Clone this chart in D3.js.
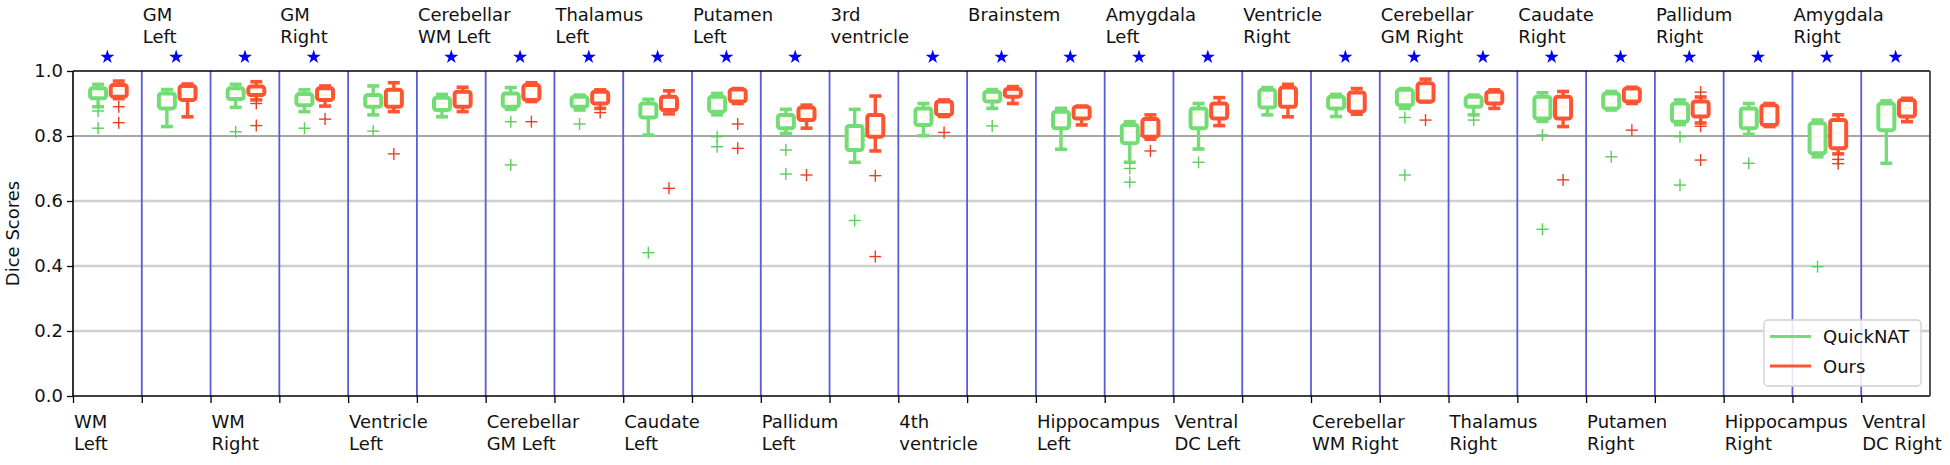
<!DOCTYPE html>
<html>
<head>
<meta charset="utf-8">
<script src="https://cdn.jsdelivr.net/npm/d3@7"></script>
<style>
  html, body { margin: 0; padding: 0; background: #fff; }
  svg { display: block; }
  text { font-family: "DejaVu Sans", sans-serif; }
</style>
</head>
<body>
<svg id="chart" width="1950" height="465"></svg>
<script>
// ---------- data ----------
const structures = [
  "WM\nLeft", "GM\nLeft", "WM\nRight", "GM\nRight", "Ventricle\nLeft",
  "Cerebellar\nWM Left", "Cerebellar\nGM Left", "Thalamus\nLeft", "Caudate\nLeft",
  "Putamen\nLeft", "Pallidum\nLeft", "3rd\nventricle", "4th\nventricle", "Brainstem",
  "Hippocampus\nLeft", "Amygdala\nLeft", "Ventral\nDC Left", "Ventricle\nRight",
  "Cerebellar\nWM Right", "Cerebellar\nGM Right", "Thalamus\nRight", "Caudate\nRight",
  "Putamen\nRight", "Pallidum\nRight", "Hippocampus\nRight", "Amygdala\nRight", "Ventral\nDC Right"
];
const significant = [1,1,1,1,0,1,1,1,1,1,1,0,1,1,1,1,1,0,1,1,1,1,1,1,1,1,1];
const seriesNames = ["QuickNAT", "Ours"];
const yTicks = [0.0, 0.2, 0.4, 0.6, 0.8, 1.0];

// QuickNAT: [whisker low, Q1, median, Q3, whisker high]
const quicknatStats = [
  [0.890,0.916,0.928,0.947,0.959],[0.829,0.885,0.911,0.931,0.943],[0.888,0.914,0.930,0.947,0.959],
  [0.875,0.895,0.911,0.929,0.942],[0.865,0.890,0.911,0.926,0.954],[0.859,0.880,0.900,0.918,0.928],
  [0.882,0.890,0.906,0.931,0.949],[0.880,0.890,0.906,0.921,0.926],[0.803,0.857,0.885,0.900,0.913],
  [0.865,0.875,0.900,0.921,0.931],[0.808,0.824,0.847,0.865,0.882],[0.719,0.757,0.790,0.831,0.882],
  [0.801,0.834,0.860,0.885,0.900],[0.885,0.906,0.920,0.936,0.943],[0.759,0.824,0.844,0.875,0.885],
  [0.719,0.778,0.813,0.834,0.844],[0.760,0.824,0.870,0.885,0.900],[0.865,0.888,0.916,0.942,0.949],
  [0.860,0.885,0.900,0.921,0.928],[0.885,0.895,0.918,0.942,0.946],[0.865,0.890,0.906,0.921,0.926],
  [0.845,0.854,0.880,0.921,0.933],[0.880,0.885,0.900,0.931,0.937],[0.835,0.844,0.870,0.900,0.911],
  [0.805,0.824,0.844,0.885,0.900],[0.736,0.747,0.798,0.839,0.849],[0.716,0.818,0.865,0.900,0.908]
];
const quicknatOutliers = [
  [0.877,0.824],[],[0.813],[0.824],[0.815],[],[0.844,0.711],[0.837],[0.441],[0.798,0.767],
  [0.757,0.683],[0.540],[],[0.831],[],[0.700,0.658],[0.719],[],[],[0.857,0.680],[0.849],
  [0.803,0.513],[0.736],[0.798,0.649],[0.716],[0.398],[]
];
// Ours: [whisker low, Q1, median, Q3, whisker high]
const oursStats = [
  [0.915,0.921,0.942,0.957,0.969],[0.859,0.911,0.939,0.954,0.960],[0.911,0.926,0.942,0.952,0.967],
  [0.892,0.911,0.926,0.947,0.954],[0.875,0.890,0.914,0.942,0.964],[0.875,0.890,0.917,0.936,0.950],
  [0.906,0.911,0.942,0.957,0.964],[0.885,0.900,0.920,0.936,0.942],[0.868,0.880,0.905,0.921,0.939],
  [0.900,0.906,0.920,0.943,0.946],[0.824,0.849,0.867,0.888,0.895],[0.754,0.798,0.818,0.865,0.923],
  [0.860,0.865,0.880,0.906,0.911],[0.900,0.921,0.936,0.945,0.952],[0.834,0.854,0.870,0.890,0.892],
  [0.790,0.798,0.830,0.852,0.865],[0.832,0.854,0.875,0.900,0.918],[0.859,0.890,0.916,0.949,0.959],
  [0.867,0.875,0.908,0.934,0.946],[0.905,0.906,0.936,0.962,0.975],[0.885,0.900,0.920,0.936,0.942],
  [0.829,0.854,0.890,0.921,0.937],[0.900,0.906,0.921,0.946,0.950],[0.840,0.860,0.885,0.906,0.920],
  [0.829,0.834,0.870,0.895,0.900],[0.745,0.762,0.808,0.849,0.865],[0.844,0.860,0.885,0.911,0.916]
];
const oursOutliers = [
  [0.890,0.841],[],[0.900,0.832],[0.852],[0.745],[],[0.844],[0.872],[0.639],[0.837,0.762],
  [0.680],[0.678,0.429],[0.811],[],[],[0.754],[],[],[],[0.849],[],
  [0.665],[0.818],[0.935,0.830,0.726],[],[0.728,0.715],[]
];

// ---------- styling ----------
const colors = { green: "#74dc74", red: "#ff5431", greenOut: "#5ccc5c", redOut: "#e8401f" };
const margin = { left: 73, right: 20, top: 71, bottom: 69 };
const W = 1950, H = 465;
const svg = d3.select("#chart");

const x = d3.scaleLinear().domain([0, structures.length]).range([margin.left, W - margin.right]);
const y = d3.scaleLinear().domain([0, 1]).range([H - margin.bottom, margin.top]);
const boxW = 16, capW = 12;

// gridlines
svg.append("g").selectAll("line").data([0.2, 0.4, 0.6]).join("line")
  .attr("x1", x(0)).attr("x2", x(structures.length))
  .attr("y1", d => y(d)).attr("y2", d => y(d))
  .attr("stroke", "#cfcfcf").attr("stroke-width", 2.5);
svg.append("line")
  .attr("x1", x(0)).attr("x2", x(structures.length))
  .attr("y1", y(0.8)).attr("y2", y(0.8))
  .attr("stroke", "#8a8a8a").attr("stroke-width", 1.3);

// separators
svg.append("g").selectAll("line").data(d3.range(1, structures.length)).join("line")
  .attr("x1", d => x(d)).attr("x2", d => x(d))
  .attr("y1", y(1)).attr("y2", y(0))
  .attr("stroke", "#5a5ae0").attr("stroke-width", 1.8);

// boxplots
function drawBoxes(stats, outliers, offset, color, outColor) {
  const g = svg.append("g");
  stats.forEach((s, i) => {
    const cx = x(i + offset);
    const [lo, q1, med, q3, hi] = s;
    const gg = g.append("g");
    gg.append("line").attr("x1", cx).attr("x2", cx).attr("y1", y(q1)).attr("y2", y(lo))
      .attr("stroke", color).attr("stroke-width", 3.4);
    gg.append("line").attr("x1", cx).attr("x2", cx).attr("y1", y(q3)).attr("y2", y(hi))
      .attr("stroke", color).attr("stroke-width", 3.4);
    [lo, hi].forEach(v => gg.append("line")
      .attr("x1", cx - capW / 2).attr("x2", cx + capW / 2)
      .attr("y1", y(v)).attr("y2", y(v))
      .attr("stroke", color).attr("stroke-width", 3.6));
    gg.append("rect").attr("x", cx - boxW / 2).attr("width", boxW)
      .attr("y", y(q3)).attr("height", Math.max(1, y(q1) - y(q3)))
      .attr("rx", 2.5).attr("fill", "#fff").attr("stroke", color).attr("stroke-width", 4);
    gg.append("line").attr("x1", cx - boxW / 2 + 3.5).attr("x2", cx + boxW / 2 - 3.5)
      .attr("y1", y(med)).attr("y2", y(med))
      .attr("stroke", "#fff6d8").attr("stroke-width", 2);
    outliers[i].forEach(v => {
      gg.append("line").attr("x1", cx - 6).attr("x2", cx + 6).attr("y1", y(v)).attr("y2", y(v))
        .attr("stroke", outColor).attr("stroke-width", 1.4);
      gg.append("line").attr("x1", cx).attr("x2", cx).attr("y1", y(v) - 6).attr("y2", y(v) + 6)
        .attr("stroke", outColor).attr("stroke-width", 1.4);
    });
  });
}
drawBoxes(quicknatStats, quicknatOutliers, 0.365, colors.green, colors.greenOut);
drawBoxes(oursStats, oursOutliers, 0.665, colors.red, colors.redOut);

// axes
const yAxis = d3.axisLeft(y).tickValues(yTicks).tickFormat(d3.format(".1f")).tickSize(6).tickPadding(4);
const gy = svg.append("g").attr("transform", `translate(${x(0)},0)`).call(yAxis);
gy.select(".domain").remove();
gy.selectAll("line").attr("stroke", "#000").attr("stroke-width", 1.3);
gy.selectAll("text").attr("font-size", 18).attr("fill", "#111").attr("font-family", "DejaVu Sans");

const xAxis = d3.axisBottom(x).tickValues(d3.range(0, structures.length)).tickFormat("").tickSize(7);
const gx = svg.append("g").attr("transform", `translate(0,${y(0)})`).call(xAxis);
gx.select(".domain").remove();
gx.selectAll("line").attr("stroke", "#000").attr("stroke-width", 1.3);

// spines
svg.append("line").attr("x1", x(0)).attr("x2", x(structures.length)).attr("y1", y(1)).attr("y2", y(1))
  .attr("stroke", "#000").attr("stroke-width", 1.6);
svg.append("line").attr("x1", x(0)).attr("x2", x(structures.length)).attr("y1", y(0)).attr("y2", y(0))
  .attr("stroke", "#000").attr("stroke-width", 1.6);
svg.append("line").attr("x1", x(0)).attr("x2", x(0)).attr("y1", y(1)).attr("y2", y(0))
  .attr("stroke", "#000").attr("stroke-width", 1.6);
svg.append("line").attr("x1", x(structures.length)).attr("x2", x(structures.length)).attr("y1", y(1)).attr("y2", y(0))
  .attr("stroke", "#444").attr("stroke-width", 1.8);

// structure labels (even -> bottom, odd -> top)
structures.forEach((name, i) => {
  const lines = name.split("\n");
  const bottom = i % 2 === 0;
  const baseY = bottom ? y(0) + 31.5 : 20.5;
  const t = svg.append("text").attr("x", x(i) + 1).attr("y", baseY)
    .attr("font-size", 18).attr("fill", "#111");
  lines.forEach((ln, k) => t.append("tspan").attr("x", x(i) + 1).attr("dy", k === 0 ? 0 : 22).text(ln));
});

// significance stars
svg.append("g").selectAll("path").data(significant.map((s, i) => ({ s, i })).filter(d => d.s))
  .join("path")
  .attr("d", d3.symbol(d3.symbolStar, 62))
  .attr("transform", d => `translate(${x(d.i + 0.5)},${y(1) - 14})`)
  .attr("fill", "#0000ff");

// y label
svg.append("text")
  .attr("transform", `translate(19,${(y(0) + y(1)) / 2}) rotate(-90)`)
  .attr("text-anchor", "middle").attr("font-size", 18).attr("fill", "#111")
  .text("Dice Scores");

// legend
const lg = svg.append("g").attr("transform", `translate(${x(structures.length) - 166},${y(0) - 76})`);
lg.append("rect").attr("width", 157).attr("height", 66).attr("rx", 4)
  .attr("fill", "#fff").attr("fill-opacity", 0.85).attr("stroke", "#d0d0d0").attr("stroke-width", 1.3);
[colors.green, colors.red].forEach((c, k) => {
  const yy = 16.5 + k * 29.5;
  lg.append("line").attr("x1", 6).attr("x2", 47).attr("y1", yy).attr("y2", yy)
    .attr("stroke", c).attr("stroke-width", 3);
  lg.append("text").attr("x", 59).attr("y", yy + 6.5).attr("font-size", 18).attr("fill", "#111")
    .text(seriesNames[k]);
});
</script>
</body>
</html>
